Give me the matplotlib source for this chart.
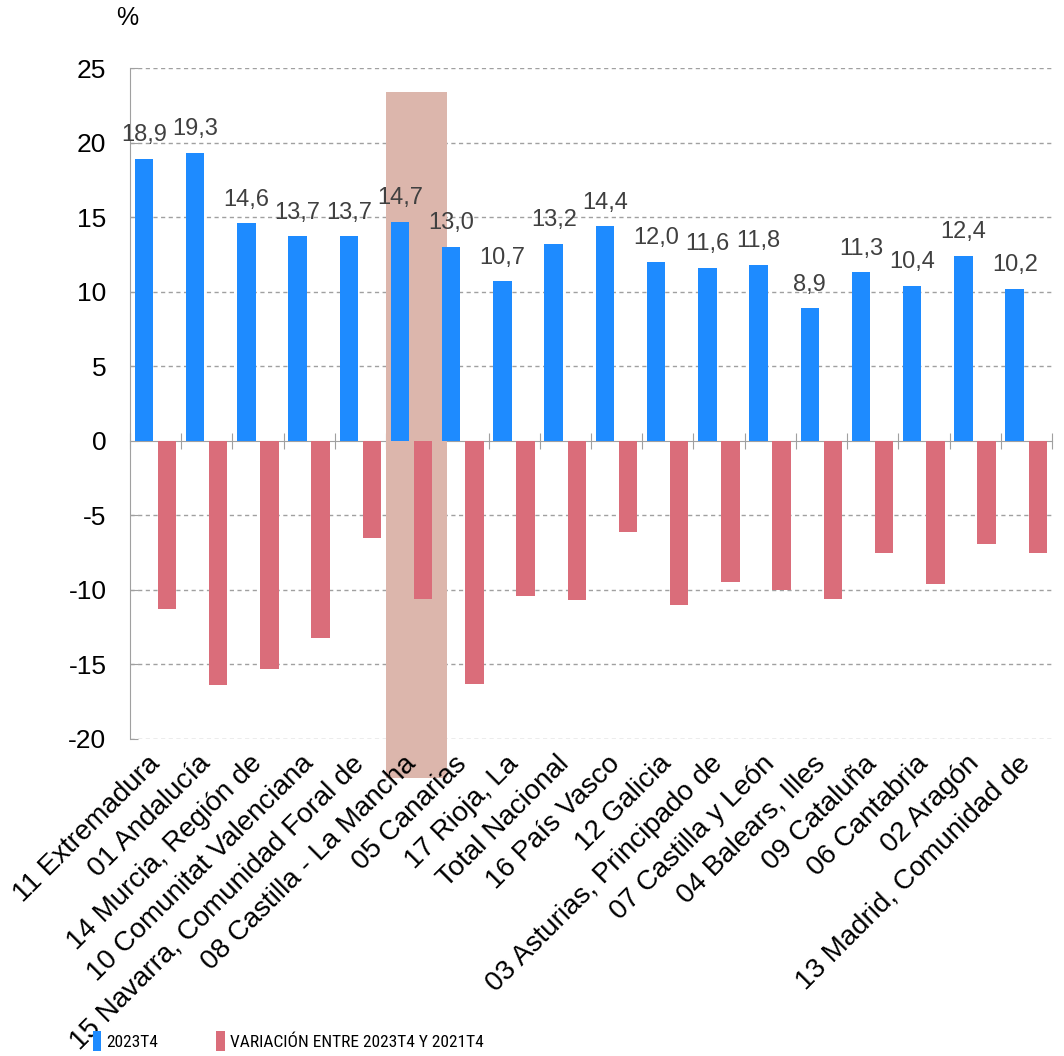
"""Tasa por comunidad autónoma: 2023T4 y variación frente a 2021T4."""

import numpy as np
import matplotlib
matplotlib.use("Agg")
import matplotlib.pyplot as plt
from matplotlib.patches import Rectangle, Patch

plt.rcParams["font.family"] = ["Liberation Sans", "DejaVu Sans"]

# ---------------------------------------------------------------------------
# Datos
# ---------------------------------------------------------------------------

regiones = [
    "11 Extremadura", "01 Andalucía", "14 Murcia, Región de",
    "10 Comunitat Valenciana", "15 Navarra, Comunidad Foral de",
    "08 Castilla - La Mancha", "05 Canarias", "17 Rioja, La",
    "Total Nacional", "16 País Vasco", "12 Galicia",
    "03 Asturias, Principado de", "07 Castilla y León", "04 Balears, Illes",
    "09 Cataluña", "06 Cantabria", "02 Aragón", "13 Madrid, Comunidad de",
]
valor_2023t4 = [18.9, 19.3, 14.6, 13.7, 13.7, 14.7, 13.0, 10.7, 13.2,
                14.4, 12.0, 11.6, 11.8, 8.9, 11.3, 10.4, 12.4, 10.2]
variacion = [-11.3, -16.4, -15.3, -13.2, -6.5, -10.6, -16.3, -10.4, -10.7,
             -6.1, -11.0, -9.5, -10.0, -10.6, -7.5, -9.6, -6.9, -7.5]
serie_1 = "2023T4"
serie_2 = "VARIACIÓN ENTRE 2023T4 Y 2021T4"
destacada = "08 Castilla - La Mancha"

AZUL = "#1e8bff"
ROJO = "#da6d7a"
BANDA = "#dcb6ac"
GRIS = "#a0a0a0"

# ---------------------------------------------------------------------------
# Figura
# ---------------------------------------------------------------------------

fig = plt.figure(figsize=(10.64, 10.56), dpi=100)
ax = fig.add_axes([0.1222, 0.3002, 0.8665, 0.6354])

x = np.arange(len(regiones))
w = 0.36
ax.bar(x - 0.228, valor_2023t4, width=w, color=AZUL, zorder=3)
ax.bar(x + 0.222, variacion, width=w, color=ROJO, zorder=3)

# banda de la región destacada (sobresale por arriba y por abajo)
i = regiones.index(destacada)
ax.add_patch(Rectangle((i - 0.5, -22.6), 1.19, 46.0, facecolor=BANDA,
                       edgecolor="none", zorder=1, clip_on=False))

for xi, v in zip(x, valor_2023t4):
    ax.annotate(f"{v:.1f}".replace(".", ","), (xi - 0.228, v),
                xytext=(0, 9), textcoords="offset points",
                ha="center", va="bottom", fontsize=17, color="#404040",
                zorder=4)

ax.set_xlim(-0.5, len(regiones) - 0.5)
ax.set_ylim(-20, 25)
yt = np.arange(-20, 26, 5)
ax.set_yticks(yt)
ax.set_yticklabels([str(t) for t in yt], fontsize=19)
# rejilla a mano, por debajo de la banda
for t in yt:
    if t != 0:
        ax.axhline(t, linestyle=(0, (3, 2.5)), color=GRIS, lw=1, zorder=0.5)
ax.tick_params(axis="y", direction="in", length=6, color=GRIS, pad=17)

for s in ("top", "right", "bottom"):
    ax.spines[s].set_visible(False)
ax.spines["left"].set_color(GRIS)

ax.set_xticks(x)
ax.set_xticklabels(regiones, rotation=45, ha="right", va="center",
                   rotation_mode="anchor", fontsize=20)
ax.tick_params(axis="x", length=0, pad=15)

# eje cero con marcas entre categorías
eje0 = ax.secondary_xaxis(20 / 45)
eje0.set_xticks(np.arange(len(regiones) + 1) - 0.5)
eje0.set_xticklabels([])
eje0.tick_params(direction="inout", length=12, color=GRIS)
eje0.spines["bottom"].set_color(GRIS)

fig.text(0.120, 0.983, "%", fontsize=18, ha="center", va="center")

handles = [Patch(facecolor=AZUL, label=serie_1),
           Patch(facecolor=ROJO, label=serie_2)]
fig.legend(handles=handles, loc="lower left", bbox_to_anchor=(0.0725, -0.010),
           ncol=2, frameon=False, handlelength=0.5, handleheight=1.4,
           handletextpad=0.3, columnspacing=3.3,
           prop={"family": ["Roboto Condensed", "Liberation Sans Narrow",
                            "Liberation Sans"],
                 "size": 12.5})

fig.savefig("out.png", dpi=100)
